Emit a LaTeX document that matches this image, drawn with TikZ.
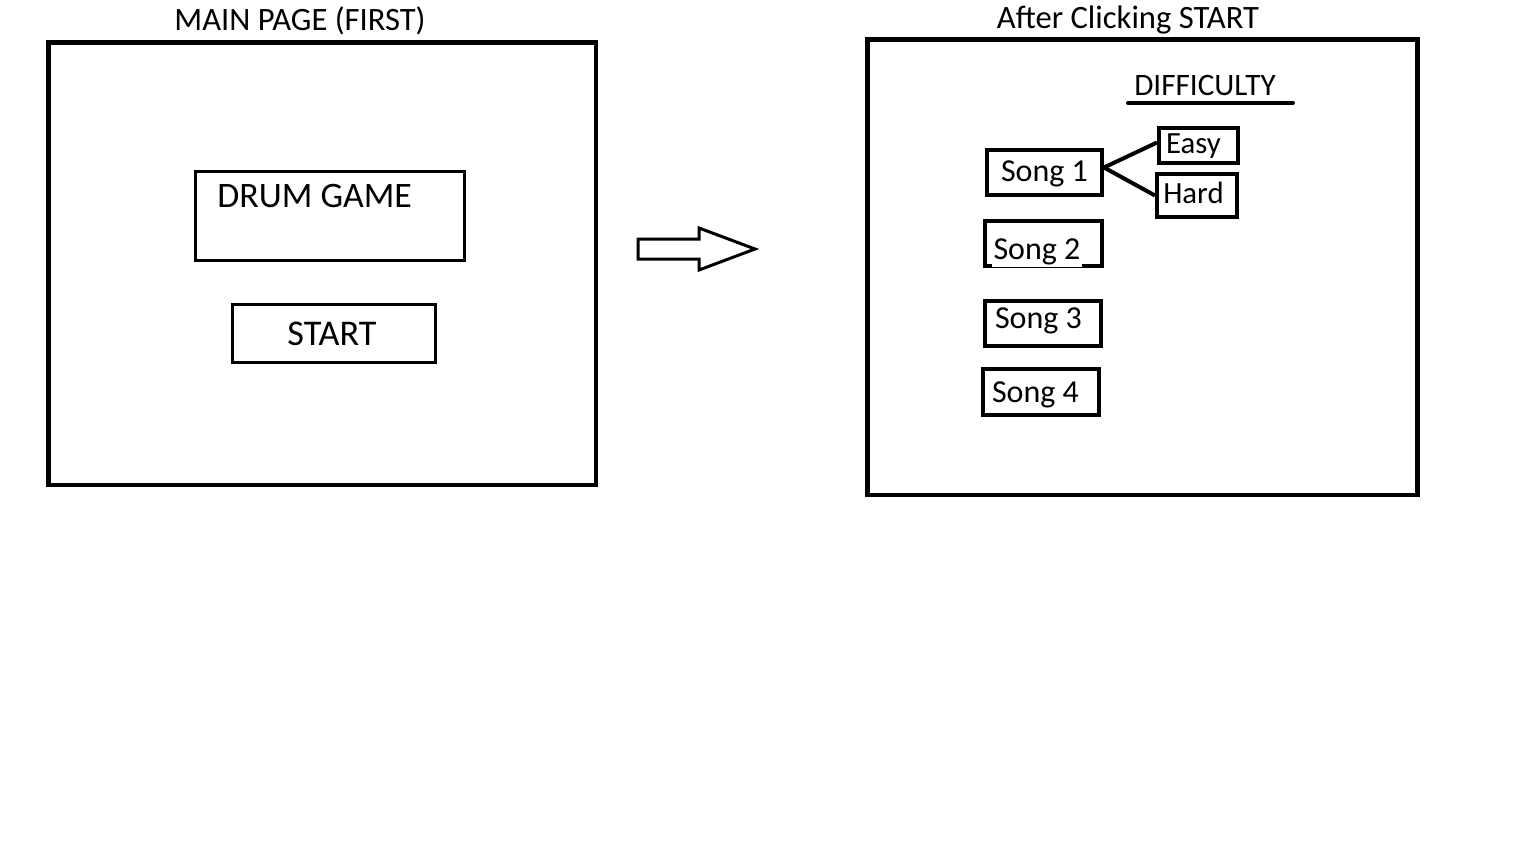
\documentclass[tikz,border=0pt]{standalone}
\usepackage{fontspec}
\setmainfont{Carlito}
\usetikzlibrary{fit}

\begin{document}
\begin{tikzpicture}[x=0.5pt, y=-0.5pt,
    frame/.style={draw, line width=2.2pt, inner sep=0pt},
    box/.style={draw, line width=2pt, inner sep=0pt},
    lbl/.style={anchor=base, inner sep=0pt, font=\fontsize{16}{18}\selectfont}]
    \useasboundingbox (0,0) rectangle (1536,864);

    % Draw the two screens
    \node[frame, fit={(48.5,42.5) (596,485)}] (mainpage) {};
    \node[frame, fit={(867.5,39.5) (1417.5,495)}] (songpage) {};
    \node[lbl, font=\fontsize{16.3}{18}\selectfont] (maintitle) at (300,30) {MAIN PAGE (FIRST)};
    \node[lbl, font=\fontsize{16.3}{18}\selectfont] (songtitle) at (1128,28) {After Clicking START};

    % Main page: title box and start button
    \node[box, line width=1.3pt, fit={(195.5,171.5) (464.5,260.5)}] (drumbox) {};
    \node[lbl, anchor=base west, font=\fontsize{17.9}{20}\selectfont] (drum) at (217,207) {DRUM GAME};
    \node[box, line width=1.5pt, fit={(232.5,304.5) (435.5,362.5)}] (startbox) {};
    \node[lbl, font=\fontsize{18.1}{20}\selectfont] (start) at (332,345) {START};

    % Arrow between the screens
    \draw[line width=1.5pt, line join=miter] (638,239) -- (699,239) -- (699,228) -- (755,249)
        -- (699,270) -- (699,259) -- (638,259) -- cycle;

    % Difficulty heading
    \node[lbl, font=\fontsize{15.6}{18}\selectfont] (difficulty) at (1205,95) {DIFFICULTY};
    \draw[line width=2pt, line cap=round] (1128,103) -- (1293,103);

    % Draw the song boxes
    \foreach \s/\xa/\ya/\xb/\yb in {1/987/150/1102/195, 2/985/221/1102/266,
                                   3/985/301/1101/346, 4/983/369/1099/415} {
        \node[box, fit={(\xa,\ya) (\xb,\yb)}] (song\s) {};
    }
    \node[lbl] (song1txt) at (1044.5,181) {Song 1};
    \node[lbl, fill=white, inner sep=1pt] (song2txt) at (1037,259) {Song 2};
    \node[lbl] (song3txt) at (1038.5,328) {Song 3};
    \node[lbl] (song4txt) at (1035.5,402) {Song 4};

    % Difficulty choices for song 1
    \node[box, fit={(1159,128) (1238,163)}] (easy) {};
    \node[lbl, font=\fontsize{15.4}{18}\selectfont] (easytxt) at (1193.5,153) {Easy};
    \node[box, fit={(1157,174) (1237,217)}] (hard) {};
    \node[lbl, font=\fontsize{15.4}{18}\selectfont] (hardtxt) at (1193.5,203) {Hard};
    \draw[line width=2pt] ([yshift=2.5pt]song1.east) -- ([yshift=1.5pt]easy.west);
    \draw[line width=2pt] ([yshift=2.5pt]song1.east) -- (hard.west);

\end{tikzpicture}
\end{document}
